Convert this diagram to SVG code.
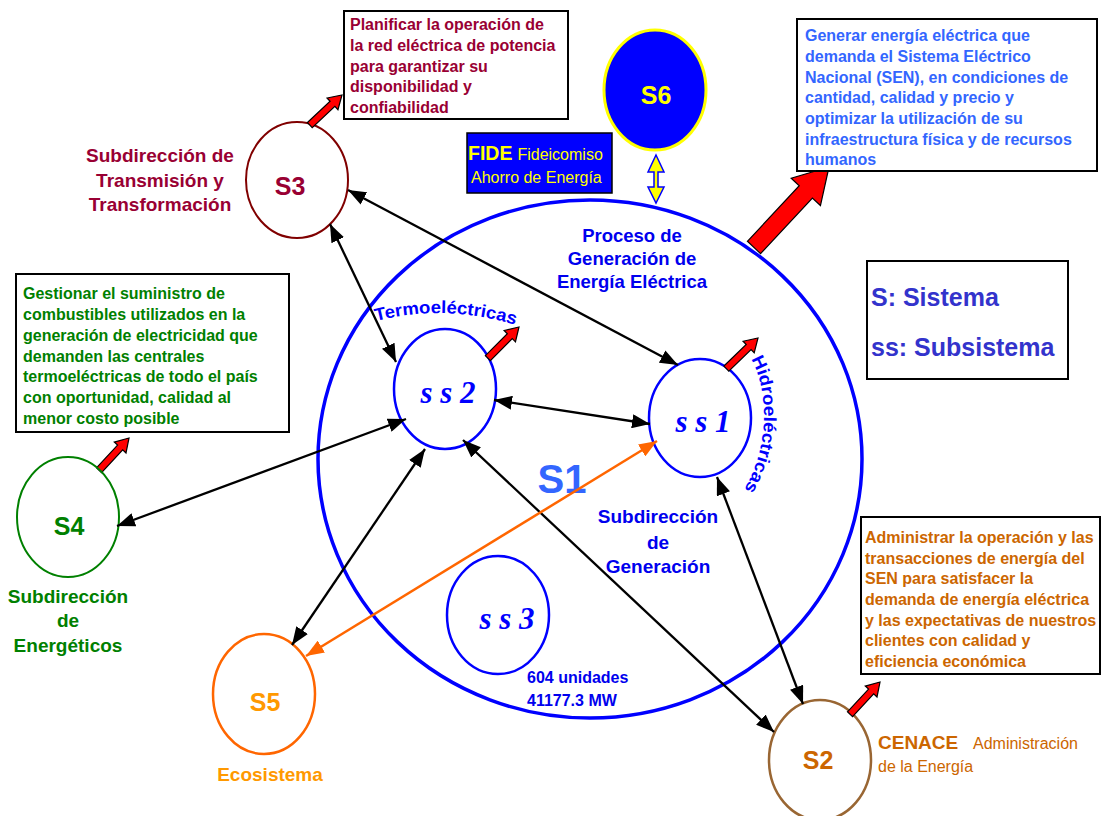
<svg xmlns="http://www.w3.org/2000/svg" width="1102" height="816" viewBox="0 0 1102 816">
  <defs>
    <style>
      text { font-family: "Liberation Sans", Arial, sans-serif; }
      .b { font-weight: bold; }
      .box { fill: #ffffff; stroke: #000000; stroke-width: 2; }
      .t16 { font-size: 16px; font-weight: bold; }
      .lbl { font-size: 19px; font-weight: bold; text-anchor: middle; }
      .node { font-size: 25px; font-weight: bold; text-anchor: middle; }
      .sub { fill: none; stroke: #0000ff; stroke-width: 2.5; }
      .ss { font-family: "Liberation Serif", "Times New Roman", serif; font-style: italic; font-weight: bold; font-size: 31px; fill: #0000ff; text-anchor: middle; }
      .link { stroke: #000000; stroke-width: 2.3; fill: none; marker-start: url(#ah); marker-end: url(#ah); }
      .redarrow { fill: #ff0000; stroke: #000000; stroke-width: 1.2; stroke-linejoin: miter; }
    </style>
    <marker id="ah" markerUnits="userSpaceOnUse" markerWidth="18" markerHeight="14" refX="18" refY="7" orient="auto-start-reverse">
      <path d="M0,0 L18,7 L0,14 Z" fill="#000000"/>
    </marker>
    <marker id="ahOrange" markerUnits="userSpaceOnUse" markerWidth="18" markerHeight="14" refX="18" refY="7" orient="auto-start-reverse">
      <path d="M0,0 L18,7 L0,14 Z" fill="#ff6600"/>
    </marker>
    <path id="smallArrow" d="M-44,-3.5 L-13,-3.5 L-13,-8 L0,0 L-13,8 L-13,3.5 L-44,3.5 Z"/>
    <path id="bigArrow" d="M-110,-9 L-34,-9 L-34,-20 L0,0 L-34,20 L-34,9 L-110,9 Z"/>
    <path id="termoPath" d="M376,321 Q447,303 519,326" fill="none"/>
    <path id="hidroPath" d="M751,359 C769,390 771,452 739,497" fill="none"/>
  </defs>

  <rect width="1102" height="816" fill="#ffffff"/>

  <!-- S1: generation process -->
  <g id="S1">
    <ellipse cx="590" cy="459" rx="272" ry="259" fill="none" stroke="#0000ff" stroke-width="3.5"/>
    <text x="632" y="242" class="b" font-size="18.5" fill="#0000ee" text-anchor="middle">Proceso de</text>
    <text x="632" y="265" class="b" font-size="18.5" fill="#0000ee" text-anchor="middle">Generación de</text>
    <text x="632" y="288" class="b" font-size="18.5" fill="#0000ee" text-anchor="middle">Energía Eléctrica</text>
    <text x="562" y="493" class="b" font-size="40" fill="#3366ff" text-anchor="middle">S1</text>
    <text x="658" y="523" class="lbl" fill="#0000ee">Subdirección</text>
    <text x="658" y="549" class="lbl" fill="#0000ee">de</text>
    <text x="658" y="573" class="lbl" fill="#0000ee">Generación</text>
    <text x="527" y="683" class="t16" fill="#0000ee">604 unidades</text>
    <text x="527" y="706" class="t16" fill="#0000ee">41177.3 MW</text>
  </g>

  <!-- subsystems -->
  <g id="ss2">
    <ellipse cx="445" cy="389" rx="51" ry="60" class="sub"/>
    <text x="448" y="403" class="ss">s s 2</text>
    <text class="b" font-size="17.5" fill="#0000ff"><textPath href="#termoPath" textLength="141" lengthAdjust="spacingAndGlyphs">Termoeléctricas</textPath></text>
    <use href="#smallArrow" class="redarrow" transform="translate(519,327) rotate(-45)"/>
  </g>
  <g id="ss1">
    <ellipse cx="700" cy="418" rx="51" ry="59" class="sub"/>
    <text x="703" y="432" class="ss">s s 1</text>
    <text class="b" font-size="17.5" fill="#0000ff"><textPath href="#hidroPath" textLength="136" lengthAdjust="spacingAndGlyphs">Hidroeléctricas</textPath></text>
    <use href="#smallArrow" class="redarrow" transform="translate(758,338) rotate(-44)"/>
  </g>
  <g id="ss3">
    <ellipse cx="498" cy="615" rx="51" ry="59" class="sub"/>
    <text x="507" y="629" class="ss">s s 3</text>
  </g>

  <!-- S3 -->
  <g id="S3">
    <ellipse cx="297" cy="180" rx="51" ry="58" fill="none" stroke="#800000" stroke-width="2"/>
    <text x="290" y="195" class="node" fill="#990033">S3</text>
    <text x="160" y="162" class="lbl" fill="#990033">Subdirección de</text>
    <text x="160" y="187" class="lbl" fill="#990033">Transmisión y</text>
    <text x="160" y="211" class="lbl" fill="#990033">Transformación</text>
    <use href="#smallArrow" class="redarrow" transform="translate(342,95) rotate(-43)"/>
    <rect x="344" y="11" width="224" height="108" class="box"/>
    <text class="t16" fill="#990033">
      <tspan x="350" y="30">Planificar la operación de</tspan>
      <tspan x="350" y="51">la red eléctrica de potencia</tspan>
      <tspan x="350" y="72">para garantizar su</tspan>
      <tspan x="350" y="92">disponibilidad y</tspan>
      <tspan x="350" y="113">confiabilidad</tspan>
    </text>
  </g>

  <!-- S6 / FIDE -->
  <g id="S6">
    <ellipse cx="655" cy="90" rx="51" ry="60" fill="#0000ff" stroke="#ffff00" stroke-width="3"/>
    <text x="656" y="104" class="node" fill="#ffff00">S6</text>
    <polygon points="656,155 664,172 658,172 658,187 664,187 656,203 648,187 654,187 654,172 648,172" fill="#ffff00" stroke="#0000ff" stroke-width="1.5" stroke-linejoin="miter"/>
  </g>
  <g id="FIDE">
    <rect x="467" y="133" width="145" height="60" fill="#0000ff" stroke="#000000" stroke-width="1.5"/>
    <text x="468" y="160" fill="#ffff00"><tspan class="b" font-size="19.5">FIDE</tspan><tspan font-size="16" dx="5">Fideicomiso</tspan></text>
    <text x="471" y="183" font-size="16" fill="#ffff00">Ahorro de Energía</text>
  </g>

  <!-- generation goal -->
  <g id="goal-S1">
    <use href="#bigArrow" class="redarrow" transform="translate(829,167) rotate(-47)"/>
    <rect x="797" y="19" width="300" height="152" class="box"/>
    <text class="t16" fill="#3366ff">
      <tspan x="805" y="41">Generar energía eléctrica que</tspan>
      <tspan x="805" y="62">demanda el Sistema Eléctrico</tspan>
      <tspan x="805" y="83">Nacional (SEN), en condiciones de</tspan>
      <tspan x="805" y="103">cantidad, calidad y precio y</tspan>
      <tspan x="805" y="124">optimizar la utilización de su</tspan>
      <tspan x="805" y="145">infraestructura física y de recursos</tspan>
      <tspan x="805" y="165">humanos</tspan>
    </text>
  </g>

  <!-- legend -->
  <g id="legend">
    <rect x="867" y="261" width="201" height="118" class="box"/>
    <text x="871" y="306" class="b" font-size="25" fill="#3333cc">S: Sistema</text>
    <text x="871" y="356" class="b" font-size="25" fill="#3333cc">ss: Subsistema</text>
  </g>

  <!-- S4 -->
  <g id="S4">
    <rect x="16" y="274" width="273" height="158" class="box"/>
    <text class="t16" fill="#008000">
      <tspan x="23" y="299">Gestionar el suministro de</tspan>
      <tspan x="23" y="320">combustibles  utilizados en la</tspan>
      <tspan x="23" y="341">generación  de electricidad que</tspan>
      <tspan x="23" y="362">demanden las centrales</tspan>
      <tspan x="23" y="382">termoeléctricas de todo el país</tspan>
      <tspan x="23" y="403">con oportunidad, calidad al</tspan>
      <tspan x="23" y="424">menor costo posible</tspan>
    </text>
    <use href="#smallArrow" class="redarrow" transform="translate(129,438) rotate(-47)"/>
    <ellipse cx="68" cy="517" rx="51" ry="60" fill="none" stroke="#008000" stroke-width="2"/>
    <text x="69" y="535" class="node" fill="#008000">S4</text>
    <text x="68" y="603" class="lbl" fill="#008000">Subdirección</text>
    <text x="68" y="627" class="lbl" fill="#008000">de</text>
    <text x="68" y="652" class="lbl" fill="#008000">Energéticos</text>
  </g>

  <!-- S5 -->
  <g id="S5">
    <ellipse cx="264" cy="694" rx="51" ry="60" fill="none" stroke="#ff6600" stroke-width="2.5"/>
    <text x="265" y="711" class="node" fill="#ff9900">S5</text>
    <text x="270" y="781" class="lbl" fill="#ff9900">Ecosistema</text>
  </g>

  <!-- S2 -->
  <g id="S2">
    <ellipse cx="820" cy="760" rx="51" ry="60" fill="none" stroke="#996633" stroke-width="2.5"/>
    <text x="818" y="769" class="node" fill="#cc6600">S2</text>
    <use href="#smallArrow" class="redarrow" transform="translate(880,682) rotate(-47)"/>
    <text x="878" y="749" class="b" font-size="19" fill="#cc6600">CENACE</text>
    <text x="973" y="749" font-size="16" fill="#cc6600">Administración</text>
    <text x="878" y="772" font-size="16" fill="#cc6600">de la Energía</text>
    <rect x="861" y="517" width="239" height="157" class="box"/>
    <text class="t16" fill="#cc6600">
      <tspan x="865" y="543">Administrar la operación y las</tspan>
      <tspan x="865" y="564">transacciones de energía del</tspan>
      <tspan x="865" y="584">SEN para satisfacer la</tspan>
      <tspan x="865" y="605">demanda de energía eléctrica</tspan>
      <tspan x="865" y="626">y las expectativas de nuestros</tspan>
      <tspan x="865" y="646">clientes con calidad y</tspan>
      <tspan x="865" y="667">eficiencia económica</tspan>
    </text>
  </g>

  <!-- connectors -->
  <g id="connectors">
    <line x1="348" y1="190" x2="678" y2="365" class="link"/>
    <line x1="330" y1="224" x2="396" y2="362" class="link"/>
    <line x1="494" y1="400" x2="650" y2="424" class="link"/>
    <line x1="117" y1="526" x2="406" y2="419" class="link"/>
    <line x1="292" y1="645" x2="425" y2="449" class="link"/>
    <line x1="463" y1="440" x2="774" y2="732" class="link"/>
    <line x1="717" y1="477" x2="803" y2="704" class="link"/>
    <line x1="306" y1="656" x2="657" y2="441" stroke="#ff6600" stroke-width="2.5" marker-start="url(#ahOrange)" marker-end="url(#ahOrange)"/>
  </g>
</svg>
